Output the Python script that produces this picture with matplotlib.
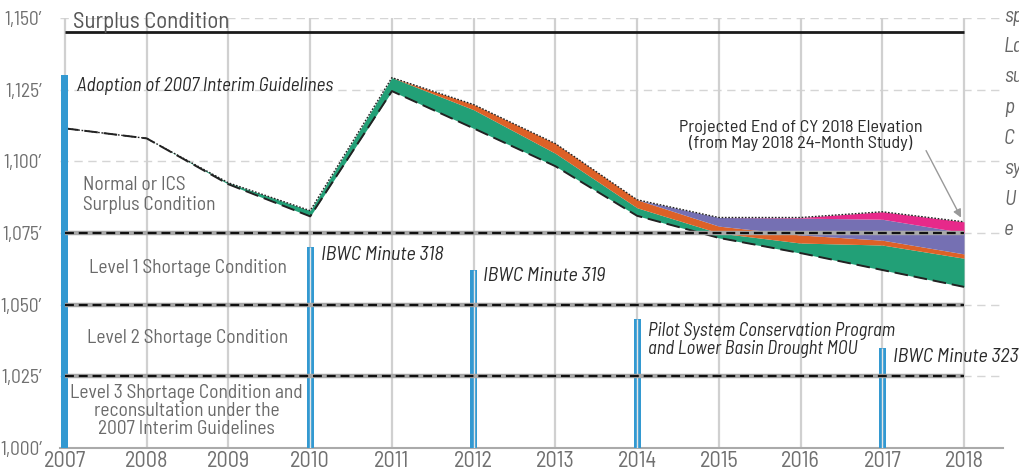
import matplotlib
matplotlib.use("Agg")
import matplotlib.pyplot as plt
import numpy as np

plt.rcParams['font.family'] = ['Barlow Semi Condensed', 'DejaVu Sans']

# ---------------- data ----------------
years = [2007, 2008, 2009, 2010, 2011, 2012, 2013, 2014, 2015, 2016, 2017, 2018]
actual_elev = [1111.5, 1108.0, 1092.0, 1080.8, 1124.5, 1111.5, 1098.3, 1081.0, 1073.3, 1068.0, 1062.1, 1056.2]
green_ft = [0.0, 0.0, 0.5, 2.0, 4.7, 6.5, 4.5, 2.8, 1.7, 3.5, 8.7, 10.0]
orange_ft = [0.0, 0.0, 0.0, 0.0, 0.0, 1.8, 3.4, 2.8, 2.4, 2.8, 1.7, 1.5]
purple_ft = [0.0, 0.0, 0.0, 0.0, 0.0, 0.0, 0.0, 0.0, 3.0, 5.9, 7.3, 7.4]
pink_ft = [0.0, 0.0, 0.0, 0.0, 0.0, 0.0, 0.0, 0.0, 0.0, 0.2, 2.6, 3.8]

surplus_level = 1145
shortage_levels = [1075, 1050, 1025]

event_years = [2007, 2010, 2012, 2014, 2017]
event_tops = [1130, 1070, 1062, 1045, 1035]

ytick_vals = [1000, 1025, 1050, 1075, 1100, 1125, 1150]
ytick_labels = ["1,000\u2032", "1,025\u2032", "1,050\u2032", "1,075\u2032", "1,100\u2032", "1,125\u2032", "1,150\u2032"]

# ---------------- figure ----------------
W, H = 1019, 476
fig = plt.figure(figsize=(W / 100, H / 100), dpi=100)
ax = fig.add_axes([60 / W, 28 / H, 943 / W, 430 / H])
ax.set_xlim(2007 - 5 / 81.73, 2018 + 39 / 81.73)
ax.set_ylim(1000, 1150)

for s in ['top', 'right', 'left']:
    ax.spines[s].set_visible(False)
ax.spines['bottom'].set_color('#aaaaaa')
ax.spines['bottom'].set_linewidth(1.5)

# gridlines
for yv in ytick_vals[1:]:
    ax.axhline(yv, color='#d5d5d5', lw=1.0, ls=(0, (6, 4)), zorder=0)
ax.vlines(years, 1000, 1150, color='#d0d0d0', lw=1.6, zorder=0)

# stacked layers
base = np.array(actual_elev)
layers = [(green_ft, '#22a077'), (orange_ft, '#dd6127'), (purple_ft, '#7570b3'), (pink_ft, '#e7298a')]
lo = base.copy()
for vals, col in layers:
    hi = lo + np.array(vals)
    ax.fill_between(years, lo, hi, color=col, lw=0, zorder=1)
    lo = hi
top = lo

ax.plot(years, base, color='#222222', lw=1.4, ls=(0, (7, 3)), zorder=2)
ax.plot(years, top, color='#222222', lw=1.0, ls=(0, (1.2, 1.2)), zorder=2)

# event bars
bar_w = 7 / 81.73
ax.bar(event_years, [t - 1000 for t in event_tops], bottom=1000, width=bar_w,
       color='#3399d1', zorder=3)
ax.vlines(event_years[1:], 1000, event_tops[1:], color='#e6e6e6', lw=1.0, zorder=3.5)

# condition lines
ax.hlines(surplus_level, years[0], years[-1], color='#1a1a1a', lw=2.0, zorder=4)
for lv in shortage_levels:
    ax.hlines(lv, years[0], years[-1], color='#a8a8a8', lw=3.2, zorder=4)
    ax.hlines(lv, years[0], years[-1], color='#111111', lw=1.6, ls=(0, (4, 2.2)), zorder=4.5)

# ticks
ax.set_xticks(years)
ax.set_xticklabels([str(y) for y in years])
ax.set_yticks(ytick_vals)
ax.set_yticklabels(ytick_labels)
ax.tick_params(axis='x', length=0, labelsize=16, labelcolor='#707070', pad=2)
ax.tick_params(axis='y', length=0, labelsize=14, labelcolor='#707070', pad=9)

# condition labels
gray = '#6a6a6a'
dark = '#2a2a2a'
fs = 14
ax.text(2007.1, 1148.6, "Surplus Condition", color='#555555', fontsize=16.5, va='center', ha='left', zorder=5)
ax.text(2007.22, 1088.2, "Normal or ICS\nSurplus Condition", color=gray, fontsize=fs,
        va='center', ha='left', linespacing=1.1, zorder=5)
ax.text(2008.5, 1062.8, "Level 1 Shortage Condition", color=gray, fontsize=fs, ha='center', va='center', zorder=5)
ax.text(2008.5, 1038.4, "Level 2 Shortage Condition", color=gray, fontsize=fs, ha='center', va='center', zorder=5)
ax.text(2008.49, 1012.9, "Level 3 Shortage Condition and\nreconsultation under the\n2007 Interim Guidelines",
        color=gray, fontsize=fs, ha='center', va='center', linespacing=1.0, zorder=5)

# event labels
ax.text(2007.15, 1126.2, "Adoption of 2007 Interim Guidelines", color=dark, style='italic', fontsize=13.8, va='center', zorder=5)
ax.text(2010.13, 1067.3, "IBWC Minute 318", color=dark, style='italic', fontsize=14.5, va='center', zorder=5)
ax.text(2012.11, 1060.0, "IBWC Minute 319", color=dark, style='italic', fontsize=14.5, va='center', zorder=5)
ax.text(2014.13, 1037.7, "Pilot System Conservation Program\nand Lower Basin Drought MOU", color=dark,
        style='italic', fontsize=13.4, va='center', linespacing=1.05, zorder=5)
ax.text(2017.13, 1031.7, "IBWC Minute 323", color=dark, style='italic', fontsize=14.5, va='center', zorder=5)

# projection annotation
ax.text(2016.0, 1109.1, "Projected End of CY 2018 Elevation\n(from May 2018 24-Month Study)", color=dark,
        fontsize=13.1, ha='center', va='center', linespacing=1.0, zorder=5)
ax.annotate("", xy=(2017.98, 1079.5), xytext=(2017.52, 1104.6),
            arrowprops=dict(arrowstyle='-|>', color='#999999', lw=1.0, mutation_scale=12), zorder=5)

# clipped side text at right edge
side = ["sp", "La", "su", "p", "C", "sy", "U", "e"]
for i, s in enumerate(side):
    fig.text(1004 / W, 1 - (16 + i * 30.5) / H, s, color='#666666', style='italic', fontsize=15,
             va='center', ha='left')

fig.savefig("out.png", dpi=100)
